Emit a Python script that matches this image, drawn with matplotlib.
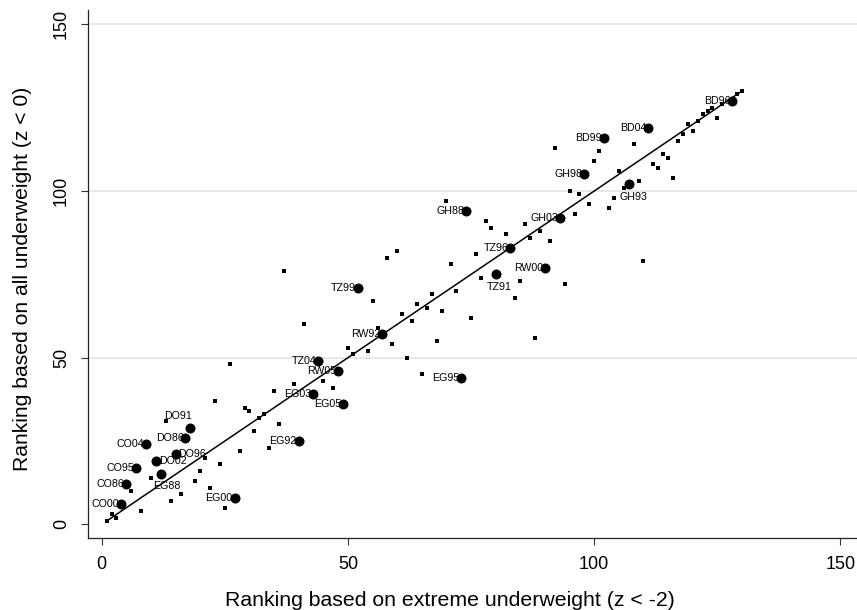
import numpy as np
import matplotlib.pyplot as plt

plt.rcParams['font.family'] = ['Liberation Sans', 'DejaVu Sans']

# labelled surveys: ranking on extreme underweight (x) vs all underweight (y)
lab_names = ['CO00', 'CO86', 'CO95', 'CO04', 'DO02', 'EG88', 'DO96', 'DO86', 'DO91',
             'EG00', 'EG92', 'EG03', 'TZ04', 'RW05', 'EG05', 'TZ99', 'RW92', 'EG95',
             'GH88', 'TZ91', 'TZ96', 'RW00', 'GH03', 'GH98', 'BD99', 'GH93', 'BD04', 'BD96']
lab_x = [4, 5, 7, 9, 11, 12, 15, 17, 18, 27, 40, 43, 44, 48, 49, 52, 57, 73,
         74, 80, 83, 90, 93, 98, 102, 107, 111, 128]
lab_y = [6, 12, 17, 24, 19, 15, 21, 26, 29, 8, 25, 39, 49, 46, 36, 71, 57, 44,
         94, 75, 83, 77, 92, 105, 116, 102, 119, 127]

# remaining (unlabelled) observations
oth_x = [1, 2, 3, 8, 6, 10, 14, 16, 19, 20, 22, 24, 25, 21, 13, 23, 28, 29, 30, 31,
         32, 33, 36, 34, 35, 39, 37, 26, 41, 55, 58, 60, 50, 51, 54, 56, 59, 61, 63,
         64, 66, 67, 69, 68, 62, 65, 72, 75, 71, 76, 77, 78, 79, 45, 47, 70, 82, 86,
         87, 89, 91, 96, 95, 97, 99, 103, 104, 106, 109, 105, 92, 100, 101, 108, 112,
         113, 114, 115, 116, 117, 118, 119, 120, 121, 122, 123, 124, 125, 126, 129,
         130, 110, 85, 84, 94, 88]
oth_y = [1, 3, 2, 4, 10, 14, 7, 9, 13, 16, 11, 18, 5, 20, 31, 37, 22, 35, 34, 28,
         32, 33, 30, 23, 40, 42, 76, 48, 60, 67, 80, 82, 53, 51, 52, 59, 54, 63, 61,
         66, 65, 69, 64, 55, 50, 45, 70, 62, 78, 81, 74, 91, 89, 43, 41, 97, 87, 90,
         86, 88, 85, 93, 100, 99, 96, 95, 98, 101, 103, 106, 113, 109, 112, 114, 108,
         107, 111, 110, 104, 115, 117, 120, 118, 121, 123, 124, 125, 122, 126, 129,
         130, 79, 73, 68, 72, 56]

# label placement (Stata-like clock positions), default 9 o'clock
lab_pos = {'DO02': 3, 'DO96': 3, 'DO91': 11, 'TZ91': 6, 'GH93': 5, 'EG88': 4}
offsets = {
    9: (-2, 0, 'right', 'center'),
    3: (3, 0, 'left', 'center'),
    11: (2, 12, 'right', 'center'),
    6: (3, -13, 'center', 'center'),
    5: (5, -13, 'center', 'center'),
    4: (6, -12, 'center', 'center'),
}

fig = plt.figure(figsize=(8.57, 6.10), dpi=100)
ax = fig.add_axes([0.1027, 0.118, 0.897, 0.8656])

for v in [50, 100, 150]:
    ax.axhline(v, color='#e6e6e6', lw=1.3, zorder=0)

ax.plot(oth_x, oth_y, 's', color='black', ms=2.3, mew=0, zorder=2)
ax.plot(lab_x, lab_y, 'o', color='black', ms=7.2, mew=0, zorder=3)

for name, x, y in zip(lab_names, lab_x, lab_y):
    dx, dy, ha, va = offsets[lab_pos.get(name, 9)]
    ax.annotate(name, (x, y), xytext=(dx, dy), textcoords='offset pixels',
                ha=ha, va=va, fontsize=7.7, color='black', zorder=4)

# 45-degree reference line over the range of the data
all_x = np.array(lab_x + oth_x, dtype=float)
xs = np.array([all_x.min(), all_x.max()])
ax.plot(xs, xs, color='black', lw=1.1, zorder=3)

ax.set_xlim(-2.78, 153.3)
ax.set_ylim(-4.1, 154.3)
ax.set_xticks([0, 50, 100, 150])
ax.set_yticks([0, 50, 100, 150])
ax.tick_params(direction='out', length=5, width=0.8, labelsize=13, pad=8, colors='#333333',
               labelcolor='black')
for lbl in ax.get_yticklabels():
    lbl.set_rotation(90)
    lbl.set_va('center')

for s in ['top', 'right']:
    ax.spines[s].set_visible(False)
for s in ['left', 'bottom']:
    ax.spines[s].set_color('#222222')
    ax.spines[s].set_linewidth(0.9)

ax.set_xlabel('Ranking based on extreme underweight (z < -2)', fontsize=15.3, va='center')
ax.set_ylabel('Ranking based on all underweight (z < 0)', fontsize=15.2, va='center')
ax.xaxis.set_label_coords(0.471, -0.119)
ax.yaxis.set_label_coords(-0.0858, 0.49)

fig.savefig('out.png', dpi=100)
